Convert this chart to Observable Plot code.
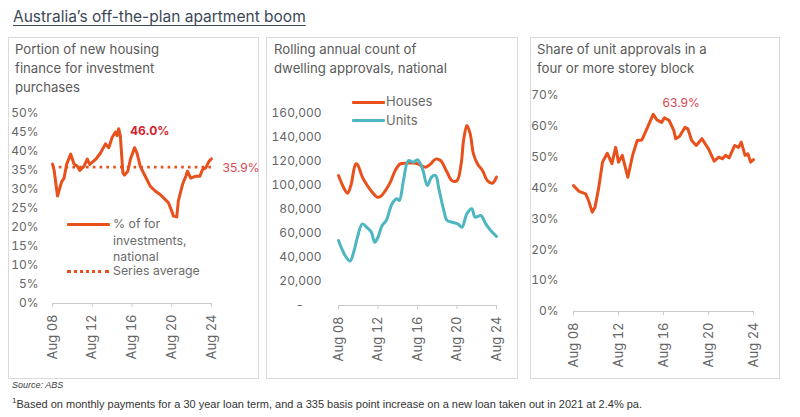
<!DOCTYPE html>
<html><head><meta charset="utf-8">
<script src="https://cdn.jsdelivr.net/npm/d3@7"></script>
<script src="https://cdn.jsdelivr.net/npm/@observablehq/plot@0.6"></script>
<style>
body{margin:0;background:#fff;width:800px;height:417px;position:relative;overflow:hidden;font-family:Inter,"Noto Sans",sans-serif;}
.abs{position:absolute;white-space:nowrap;}
.box{position:absolute;border:1px solid #dadada;box-sizing:border-box;}
.ptitle{position:absolute;font-size:13.2px;line-height:19px;color:#5a5a5a;}
.leg{position:absolute;font-size:12.3px;color:#6b6b6b;line-height:16.5px;}
#title{left:13px;top:7px;font-size:15.5px;color:#3b4856;text-decoration:underline;text-decoration-thickness:1px;text-underline-offset:3px;}
.chart{position:absolute;}
</style></head>
<body>
<div id="title" class="abs">Australia’s off-the-plan apartment boom</div>
<div class="box" style="left:8px;top:37px;width:251px;height:342px"></div>
<div class="box" style="left:266px;top:37px;width:252px;height:342px"></div>
<div class="box" style="left:530px;top:37px;width:250px;height:342px"></div>
<div class="ptitle" style="left:15px;top:40px">Portion of new housing<br>finance for investment<br>purchases</div>
<div class="ptitle" style="left:274px;top:40px">Rolling annual count of<br>dwelling approvals, national</div>
<div class="ptitle" style="left:537px;top:40px">Share of unit approvals in a<br>four or more storey block</div>

<div id="c1" class="chart" style="left:9px;top:95px"></div>
<div id="c2" class="chart" style="left:267px;top:95px"></div>
<div id="c3" class="chart" style="left:531px;top:85px"></div>

<!-- legends -->
<div class="abs" style="left:67px;top:223px;width:43px;height:3px;background:#E8501C;border-radius:1px"></div>
<div class="leg" style="left:113px;top:216px">% of for<br>investments,<br>national</div>
<div class="abs" style="left:67px;top:270px;width:42px;height:0;border-top:3px dotted #E8501C"></div>
<div class="leg" style="left:113px;top:263px">Series average</div>

<div class="abs" style="left:352px;top:100.5px;width:33px;height:3px;background:#E8501C;border-radius:1px"></div>
<div class="leg" style="left:386px;top:93px;font-size:13px">Houses</div>
<div class="abs" style="left:352px;top:119px;width:33px;height:3px;background:#4DB6C1;border-radius:1px"></div>
<div class="leg" style="left:386px;top:111.5px;font-size:13px">Units</div>

<div class="abs" style="left:12px;top:380px;font-size:9px;font-style:italic;color:#444;font-family:'Liberation Sans Narrow','Liberation Sans',sans-serif">Source: ABS</div>
<div class="abs" style="left:12px;top:396px;font-size:11px;color:#333;font-family:'Liberation Sans Narrow','Liberation Sans',sans-serif"><sup style="font-size:8px">1</sup>Based on monthly payments for a 30 year loan term, and a 335 basis point increase on a new loan taken out in 2021 at 2.4% pa.</div>

<script>
// ---------- data ----------
const xTickDates = ["2008-08","2012-08","2016-08","2020-08","2024-08"];
const xTickLabels = ["Aug 08","Aug 12","Aug 16","Aug 20","Aug 24"];

const invDates = ["2008-08","2008-10","2009-02","2009-07","2009-10","2010-01","2010-06","2010-10","2011-02","2011-05","2011-10","2012-02","2012-05","2012-12","2013-06","2013-12","2014-04","2014-08","2014-12","2015-02","2015-04","2015-06","2015-09","2015-11","2016-03","2016-06","2016-11","2017-02","2017-06","2017-12","2018-06","2018-12","2019-06","2019-12","2020-04","2020-08","2020-10","2021-02","2021-04","2021-09","2022-01","2022-03","2022-07","2023-01","2023-06","2023-09","2024-01","2024-05","2024-08"];
const invShare = [36.7,35,28.3,32,33,36.6,39.3,36.7,36.1,35,36.1,38,36.6,37.9,39.6,42,41,43.7,45.1,44.2,46,44,34.4,33.8,34.8,37.9,41,39.6,36.1,33.5,30.9,29.6,28.7,27.4,26.5,24.3,23,22.8,27,31.3,33.5,34.8,33,33.5,33.5,35.2,35.7,37.4,38.1];
const invAverage = 35.9;
const invPeakLabel = "46.0%";
const invAvgLabel = "35.9%";
const invYTicks = [0,5,10,15,20,25,30,35,40,45,50];

const houseDates = ["2008-08","2009-02","2009-07","2009-11","2010-05","2010-07","2011-01","2011-07","2012-01","2012-07","2012-11","2013-05","2013-11","2014-05","2014-11","2015-07","2016-06","2017-06","2017-12","2018-06","2018-12","2019-08","2020-02","2020-08","2021-01","2021-04","2021-08","2021-12","2022-04","2022-09","2023-03","2023-09","2024-03","2024-08"];
const houses = [108300,98600,93600,100000,118000,117500,107000,100000,94400,90300,90800,95800,102800,112500,118000,118600,118600,115300,118000,122000,120800,111000,104000,104000,118000,137500,150000,143000,126400,118000,112500,104000,101900,107000];
const unitDates = ["2008-08","2008-12","2009-04","2009-10","2010-03","2010-07","2011-01","2011-07","2011-12","2012-04","2012-08","2013-01","2013-06","2014-01","2014-07","2014-10","2015-03","2015-09","2016-03","2016-08","2017-02","2017-08","2018-01","2018-06","2018-10","2019-04","2019-08","2020-02","2020-09","2021-02","2021-08","2022-02","2022-06","2023-01","2023-07","2024-01","2024-08"];
const units = [54200,47300,41700,37000,45800,56900,68000,64700,61000,52700,56900,66700,70800,84700,88900,87500,104200,120800,119400,121400,113900,100000,106900,108300,97200,79200,70800,69400,68000,65200,76400,80600,73600,75000,68000,62500,57500];
const approvalYTicks = [0,20000,40000,60000,80000,100000,120000,140000,160000];

const storeyDates = ["2008-08","2009-02","2009-09","2009-12","2010-04","2010-07","2010-11","2011-03","2011-08","2012-01","2012-05","2012-08","2012-12","2013-06","2013-11","2014-04","2014-09","2015-03","2015-09","2016-01","2016-06","2016-09","2017-02","2017-07","2017-09","2018-01","2018-07","2018-10","2019-02","2019-07","2020-01","2020-08","2021-02","2021-07","2021-11","2022-02","2022-06","2022-12","2023-04","2023-07","2023-11","2024-02","2024-05","2024-08"];
const storeyShare = [40.8,38.9,38.1,36,32.2,33.8,40.3,48.4,51.3,47.9,53.2,48.4,50.6,43.5,50.6,55.4,55.6,59.7,63.9,62.1,61.3,62.8,61.9,58.7,56,56.7,59.7,59.2,55.4,53.8,56,52.7,48.7,50,49.5,50.6,49.8,53.8,53.2,54.9,50.6,51.1,48.4,49.2];
const storeyPeakLabel = "63.9%";
const storeyYTicks = [0,10,20,30,40,50,60,70];

// ---------- helpers ----------
const parse = d3.utcParse("%Y-%m");
const ORANGE = "#E8501C", TEAL = "#4DB6C1";
const tickD = xTickDates.map(parse);
const labelOf = new Map(tickD.map((d,i)=>[+d, xTickLabels[i]]));
const xDomain = [tickD[0], tickD[tickD.length-1]];
const toRows = (dates, vals) => dates.map((d,i)=>({date: parse(d), v: vals[i]}));

function xAxisMarks(){
  return [
    Plot.ruleY([0], {x1: xDomain[0], x2: xDomain[1], stroke:"#c9c9c9", strokeWidth:1}),
    Plot.axisX(tickD, {label:null, tickSize:4, stroke:"#c9c9c9", tickPadding:7, tickRotate:-90,
      tickFormat: d => labelOf.get(+d), fill:"#666", fontSize:13})
  ];
}
const baseStyle = {fontFamily:"Inter, 'Noto Sans', sans-serif", fontSize:"12px", color:"#666", background:"transparent", overflow:"visible"};

// ---------- chart 1 ----------
const r1 = toRows(invDates, invShare);
const peak1 = r1.reduce((a,b)=> b.v>a.v?b:a);
const c1 = Plot.plot({
  width:249, height:275, marginLeft:43, marginRight:47, marginTop:18, marginBottom:67,
  style: baseStyle,
  x:{type:"utc", domain:xDomain, label:null},
  y:{domain:[0,50], label:null},
  marks:[
    Plot.axisY(invYTicks, {label:null, tickSize:0, tickPadding:14, tickFormat:d=>d+"%", fill:"#666", fontSize:12}),
    ...xAxisMarks(),
    Plot.ruleY([invAverage], {x1:xDomain[0], x2:xDomain[1], stroke:ORANGE, strokeWidth:2.6, strokeDasharray:"2.6,4.2"}),
    Plot.line(r1, {x:"date", y:"v", stroke:ORANGE, strokeWidth:3, curve:"linear"}),
    Plot.text([peak1], {x:"date", y:"v", text:()=>invPeakLabel, dx:31, dy:2, fill:"#D21F2E", fontWeight:"bold", fontSize:12}),
    Plot.text([{date:xDomain[1], v:invAverage}], {x:"date", y:"v", text:()=>invAvgLabel, dx:11, dy:1, textAnchor:"start", fill:"#DD4550", fontSize:12})
  ]
});
document.getElementById("c1").append(c1);

// ---------- chart 2 ----------
const rh = toRows(houseDates, houses).map(d=>({...d, s:"Houses"}));
const ru = toRows(unitDates, units).map(d=>({...d, s:"Units"}));
const c2 = Plot.plot({
  width:250, height:275, marginLeft:71, marginRight:21, marginTop:18, marginBottom:65,
  style: baseStyle,
  x:{type:"utc", domain:xDomain, label:null},
  y:{domain:[0,160000], label:null},
  marks:[
    Plot.axisY(approvalYTicks, {label:null, tickSize:0, tickPadding:17, tickFormat:d=> d===0 ? "-\u2002\u2002\u2002" : d3.format(",")(d), fill:"#666", fontSize:12}),
    ...xAxisMarks(),
    Plot.line(rh, {x:"date", y:"v", stroke:ORANGE, strokeWidth:3, curve:"catmull-rom"}),
    Plot.line(ru, {x:"date", y:"v", stroke:TEAL, strokeWidth:3, curve:"catmull-rom"})
  ]
});
document.getElementById("c2").append(c2);

// ---------- chart 3 ----------
const r3 = toRows(storeyDates, storeyShare);
const peak3 = r3.reduce((a,b)=> b.v>a.v?b:a);
const c3 = Plot.plot({
  width:248, height:285, marginLeft:42, marginRight:26, marginTop:10, marginBottom:59,
  style: baseStyle,
  x:{type:"utc", domain:xDomain, label:null},
  y:{domain:[0,70], label:null},
  marks:[
    Plot.axisY(storeyYTicks, {label:null, tickSize:0, tickPadding:15, tickFormat:d=>d+"%", fill:"#666", fontSize:12}),
    ...xAxisMarks(),
    Plot.line(r3, {x:"date", y:"v", stroke:ORANGE, strokeWidth:3}),
    Plot.text([peak3], {x:"date", y:"v", text:()=>storeyPeakLabel, dx:28, dy:-11, fill:"#D9434E", fontSize:12})
  ]
});
document.getElementById("c3").append(c3);
</script>
</body></html>
